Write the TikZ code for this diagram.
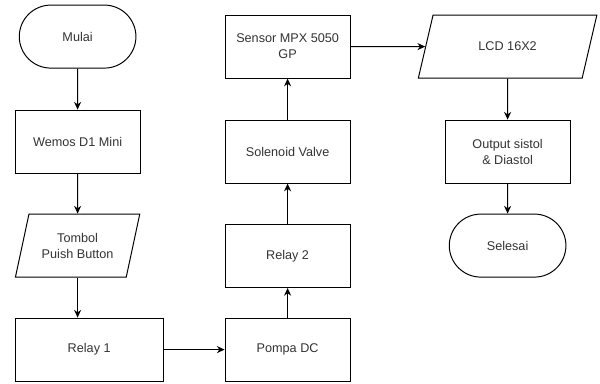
\documentclass[tikz,border=0pt]{standalone}
\usepackage{fontspec}
\setmainfont{Liberation Sans}
\usepackage{tikz}
\usetikzlibrary{calc}
\usetikzlibrary{shapes.misc, shapes.geometric, positioning, arrows.meta}

\begin{document}
\begin{tikzpicture}[-{Stealth[length=5.5pt,width=5pt]},auto,node distance=2.6cm,line width=0.7pt,
                    every node/.style={font=\fontsize{9}{11.4}\selectfont,text=black!80,align=center},
                    proc node/.style={rectangle,draw=black,minimum width=3.125cm,minimum height=1.575cm},
                    term node/.style={rounded rectangle,draw=black,minimum width=3.15cm,minimum height=1.575cm},
                    io node/.style={trapezium,trapezium left angle=70,trapezium right angle=110,
                                    trapezium stretches=true,draw=black,minimum height=1.575cm}]

  \useasboundingbox (0,0) rectangle (15,9.575);

  % kolom kiri
  \node[term node] (mulai) at (1.94,8.66) {Mulai};
  \node[proc node] (wemos) [below of=mulai, node distance=2.625cm] {Wemos D1 Mini};
  \node[io node, minimum width=3.125cm, trapezium left angle=72, trapezium right angle=108] (tombol) [below of=wemos] {Tombol\\Puish Button};
  \node[proc node, minimum width=3.7cm] (relay1) [below of=tombol, xshift=0.29cm] {Relay 1};

  % kolom tengah
  \node[proc node] (pompa) [right of=relay1, node distance=4.96cm] {Pompa DC};
  \node[proc node] (relay2) [above of=pompa, node distance=2.34cm] {Relay 2};
  \node[proc node] (solenoid) [above of=relay2, node distance=2.61cm] {Solenoid Valve};
  \node[proc node] (sensor) [above of=solenoid, node distance=2.625cm] {Sensor MPX 5050\\GP};

  % kolom kanan
  \node[io node, minimum width=4.475cm] (lcd) [right of=sensor, node distance=5.5cm] {LCD 16X2};
  \node[proc node] (output) [below of=lcd, node distance=2.625cm] {Output sistol\\\& Diastol};
  \node[term node] (selesai) [below of=output, node distance=2.35cm] {Selesai};

  \path
    (mulai) edge (wemos)
    (wemos) edge (tombol)
    (relay1) edge (pompa)
    (pompa) edge (relay2)
    (relay2) edge (solenoid)
    (solenoid) edge (sensor)
    (sensor) edge (lcd.west)
    (lcd) edge (output)
    (output) edge (selesai);
  \draw (tombol.south) -- (tombol.south |- relay1.north);

\end{tikzpicture}
\end{document}
